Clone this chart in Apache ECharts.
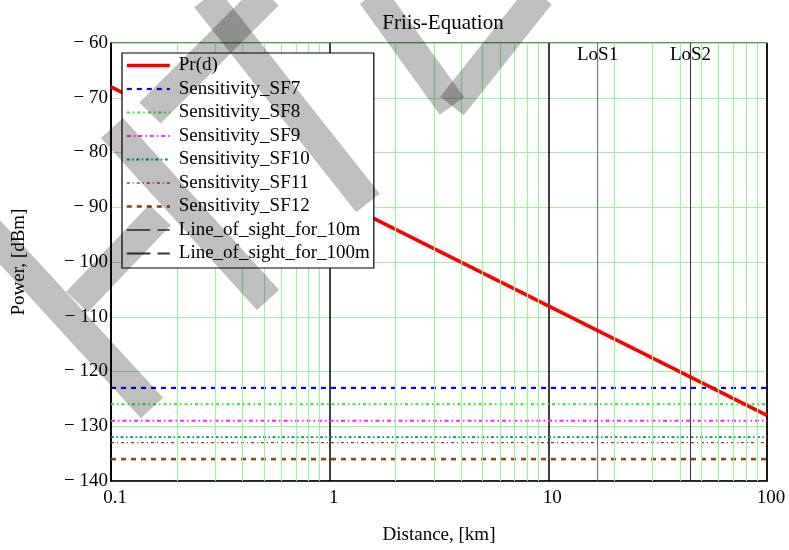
<!DOCTYPE html>
<html><head><meta charset="utf-8">
<script src="https://cdn.jsdelivr.net/npm/echarts@6/dist/echarts.min.js"></script>
<style>html,body{margin:0;padding:0;background:#fff}#c{width:789px;height:550px}</style>
</head><body><div id="c"></div>
<script>
const titleText = 'Friis-Equation';
const xName = 'Distance, [km]';
const yName = 'Power, [dBm]';
const xMin = 0.1, xMax = 100;
const yMin = -140, yMax = -60, yStep = 10;
const minorGridX = [0.2,0.3,0.4,0.5,0.6,0.7,0.8,0.9,2,3,4,5,6,7,8,9,20,30,40,50,60,70,80,90];
const prName = 'Pr(d)';
const prDistance = [0.1, 1, 10, 100];
const prPower = [-68, -88, -108, -128];
const sensNames = ['Sensitivity_SF7','Sensitivity_SF8','Sensitivity_SF9','Sensitivity_SF10','Sensitivity_SF11','Sensitivity_SF12'];
const sensValues = [-123, -126, -129, -132, -133, -136];
const losNames = ['Line_of_sight_for_10m','Line_of_sight_for_100m'];
const losLabels = ['LoS1','LoS2'];
const losDistance = [16.8, 44.7];

const FONT = 'Liberation Serif';
const sensStyles = [
  {color:'#0000ff', width:2.2, type:[5,5]},
  {color:'#22ee22', width:2, type:[3,3,1.5,3]},
  {color:'#ff22ff', width:2, type:[4,3,1.5,3]},
  {color:'#118888', width:1.8, type:[3,2.5,1.5,2.5]},
  {color:'#8b4a10', width:1.3, type:[3,3,1,3]},
  {color:'#8b4a10', width:2.6, type:[5,5]}
];
const losStyles = [{color:'#666'},{color:'#333'}];

// decorative watermark strokes (page pixels), not data
const wmStrokes = [
  [[268,-5],[150,113]],
  [[372,-5],[452,106]],
  [[452,106],[540,-5]],
  [[206,-2],[368,203]],
  [[112,128],[268,300]],
  [[-15,226],[152,408]],
  [[77,302],[160,215]]
];
function wmPolys(strokes, w) {
  return strokes.map(([p, q]) => {
    const dx = q[0]-p[0], dy = q[1]-p[1], L = Math.hypot(dx, dy);
    const nx = -dy/L*w/2, ny = dx/L*w/2;
    return {
      type: 'polygon', z: 100, silent: true,
      shape: {points: [[p[0]+nx,p[1]+ny],[q[0]+nx,q[1]+ny],[q[0]-nx,q[1]-ny],[p[0]-nx,p[1]-ny]]},
      style: {fill: 'rgba(0,0,0,0.25)'}
    };
  });
}

const series = [];
series.push({
  name: '_grid', type: 'line', data: [], silent: true, z: 1,
  markLine: {silent: true, symbol: 'none', label: {show: false},
    lineStyle: {color: '#a0f0a0', width: 1.2, type: 'solid'},
    data: minorGridX.map(v => ({xAxis: v}))}
});
series.push({
  name: prName, type: 'line', symbol: 'none', z: 3,
  lineStyle: {color: '#ff0000', width: 3.6}, itemStyle: {color: '#ff0000'},
  data: prDistance.map((d, i) => [d, prPower[i]])
});
sensNames.forEach((n, i) => {
  series.push({
    name: n, type: 'line', symbol: 'none', z: 2,
    lineStyle: sensStyles[i], itemStyle: {color: sensStyles[i].color},
    data: [[xMin, sensValues[i]], [xMax, sensValues[i]]]
  });
});
losNames.forEach((n, i) => {
  series.push({
    name: n, type: 'line', symbol: 'none', z: 2,
    lineStyle: {color: losStyles[i].color, width: 1}, itemStyle: {color: losStyles[i].color},
    data: [[losDistance[i], yMin], [losDistance[i], yMax]],
    markPoint: {symbol: 'circle', symbolSize: 0, silent: true,
      label: {show: true, position: 'bottom', distance: 3, formatter: losLabels[i],
        color: '#000', fontFamily: FONT, fontSize: 19},
      data: [{coord: [losDistance[i], yMax]}]}
  });
});

const losIcon = 'path://M0 0H23V2H0Z M30 0H42V2H30Z';
const legendData = [prName].concat(sensNames).map(n => ({name: n, itemStyle: {opacity: 0}}))
  .concat(losNames.map(n => ({name: n, icon: losIcon})));

const chart = echarts.init(document.getElementById('c'), null, {renderer: 'canvas'});
chart.setOption({
  animation: false,
  backgroundColor: '#fff',
  title: {text: titleText, left: 438, textAlign: 'center', top: 8,
    textStyle: {fontFamily: FONT, fontSize: 21, fontWeight: 'normal', color: '#000'}},
  grid: {left: 111, right: 22, top: 43, bottom: 67, show: true, borderColor: '#000', borderWidth: 1.2, backgroundColor: 'transparent'},
  legend: {
    orient: 'vertical', left: 122, top: 53, z: 10,
    backgroundColor: '#fff', borderColor: '#000', borderWidth: 1.2,
    padding: [3, 4, 5, 3], itemWidth: 43, itemHeight: 14, itemGap: 4.5,
    lineStyle: {width: 'inherit'},
    textStyle: {fontFamily: FONT, fontSize: 19, color: '#000', padding: [0,0,0,4], lineHeight: 19},
    data: legendData
  },
  xAxis: {
    type: 'log', logBase: 10, min: xMin, max: xMax,
    name: xName, nameLocation: 'middle', nameGap: 45,
    nameTextStyle: {fontFamily: FONT, fontSize: 19, color: '#000'},
    axisLine: {lineStyle: {color: '#000', width: 1.5}},
    axisTick: {show: false},
    axisLabel: {fontFamily: FONT, fontSize: 19, color: '#000', margin: 8, padding: [0,0,0,8],
      formatter: v => String(v)},
    splitLine: {show: true, lineStyle: {color: '#000', width: 1.5}},
    minorSplitLine: {show: false}
  },
  yAxis: {
    type: 'value', min: yMin, max: yMax, interval: yStep,
    name: yName, nameLocation: 'middle', nameGap: 82, nameRotate: 90,
    nameTextStyle: {fontFamily: FONT, fontSize: 19, color: '#000'},
    axisLine: {show: true, lineStyle: {color: '#000', width: 1.5}},
    axisTick: {show: false},
    axisLabel: {fontFamily: FONT, fontSize: 19, color: '#000', margin: 3,
      formatter: v => v < 0 ? '\u2212 ' + (-v) : String(v)},
    splitLine: {show: true, lineStyle: {color: '#a0f0a0', width: 1.2}}
  },
  graphic: wmPolys(wmStrokes, 30),
  series: series
});
</script></body></html>
